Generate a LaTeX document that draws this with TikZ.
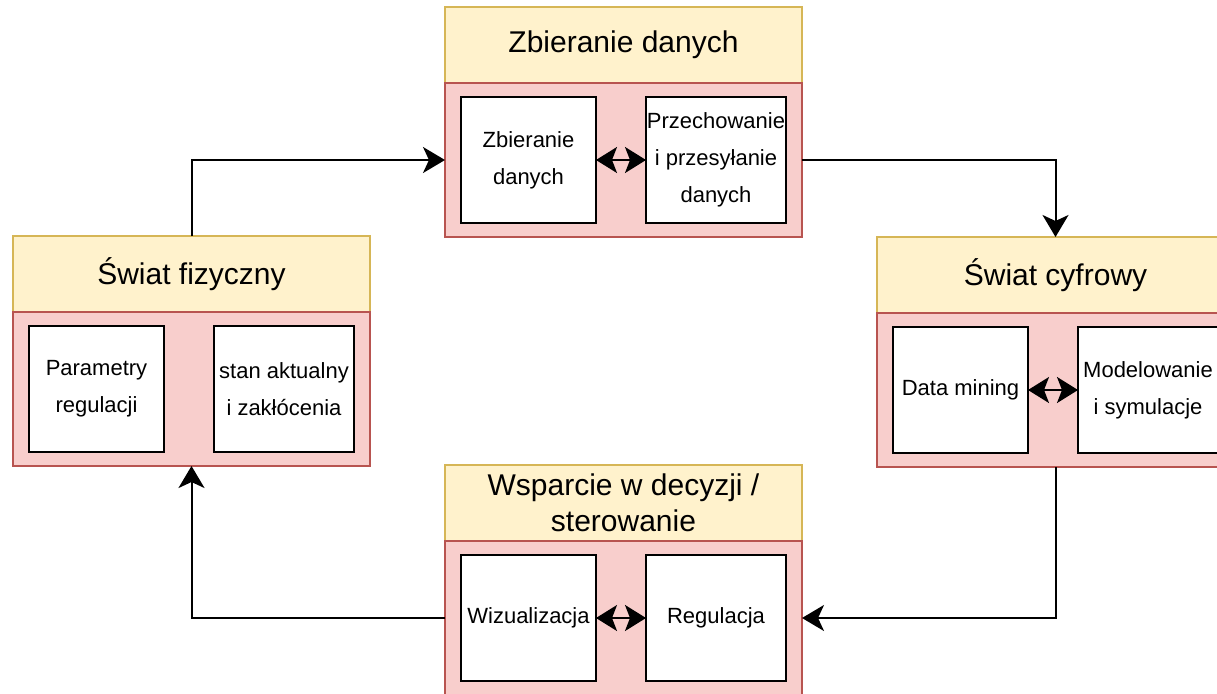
\documentclass[tikz,border=0pt]{standalone}
\usepackage{fontspec}
\setmainfont{Liberation Sans}
\usetikzlibrary{positioning,arrows.meta}

\definecolor{headfill}{HTML}{FFF2CC}
\definecolor{headline}{HTML}{D6B656}
\definecolor{bodyfill}{HTML}{F8CECC}
\definecolor{bodyline}{HTML}{B85450}

\tikzset{
  blockhead/.style={draw=headline, fill=headfill, line width=2pt, minimum width=357pt, minimum height=76pt,
    inner sep=0pt, outer sep=0pt, align=center, font=\fontsize{30}{36}\selectfont},
  blockbody/.style={draw=bodyline, fill=bodyfill, line width=2pt, minimum width=357pt, minimum height=154pt,
    inner sep=0pt, outer sep=0pt},
  innerbox/.style={draw=black, fill=white, line width=2pt, minimum height=126pt,
    inner sep=0pt, outer sep=0pt, align=center, font=\fontsize{22}{37}\selectfont},
  flowarrow/.style={line width=2pt, -{Stealth[length=22pt,width=26pt,inset=6pt]}},
  bothways/.style={line width=2pt, {Stealth[length=21pt,width=26pt,inset=5pt]}-{Stealth[length=21pt,width=26pt,inset=5pt]}}
}

\begin{document}
\begin{tikzpicture}[x=1pt,y=-1pt]
  \path[use as bounding box, clip] (0,0) rectangle (1217,693);

  % Zbieranie danych
  \node[blockhead, anchor=north west] (zdHead) at (445,7) {Zbieranie danych};
  \node[blockbody, below=0pt of zdHead] (zdBody) {};
  \node[innerbox, minimum width=135pt, right=16pt of zdBody.west] (zdLeft) {Zbieranie\\danych};
  \node[innerbox, minimum width=140pt, left=16pt of zdBody.east] (zdRight) {Przechowanie\\i przesyłanie\\danych};

  % Swiat fizyczny
  \node[blockhead, anchor=north west] (zfHead) at (13,236) {Świat fizyczny};
  \node[blockbody, below=0pt of zfHead] (zfBody) {};
  \node[innerbox, minimum width=135pt, right=16pt of zfBody.west] (zfLeft) {Parametry\\regulacji};
  \node[innerbox, minimum width=140pt, left=16pt of zfBody.east] (zfRight) {stan aktualny\\i zakłócenia};

  % Swiat cyfrowy
  \node[blockhead, anchor=north west] (zcHead) at (877,237) {Świat cyfrowy};
  \node[blockbody, below=0pt of zcHead] (zcBody) {};
  \node[innerbox, minimum width=135pt, right=16pt of zcBody.west] (zcLeft) {Data mining};
  \node[innerbox, minimum width=140pt, left=16pt of zcBody.east] (zcRight) {Modelowanie\\i symulacje};

  % Wsparcie w decyzji
  \node[blockhead, anchor=north west] (wsHead) at (445,465) {Wsparcie w decyzji /\\sterowanie};
  \node[blockbody, below=0pt of wsHead] (wsBody) {};
  \node[innerbox, minimum width=135pt, right=16pt of wsBody.west] (wsLeft) {Wizualizacja};
  \node[innerbox, minimum width=140pt, left=16pt of wsBody.east] (wsRight) {Regulacja};

  % cykl
  \draw[flowarrow] (zfHead.north) |- (zdBody.west);
  \draw[flowarrow] (zdBody.east) -| (zcHead.north);
  \draw[flowarrow] (zcBody.south) |- (wsBody.east);
  \draw[flowarrow] (wsBody.west) -| (zfBody.south);

  \draw[bothways] (zdLeft.east) -- (zdRight.west);
  \draw[bothways] (zcLeft.east) -- (zcRight.west);
  \draw[bothways] (wsLeft.east) -- (wsRight.west);
\end{tikzpicture}
\end{document}
